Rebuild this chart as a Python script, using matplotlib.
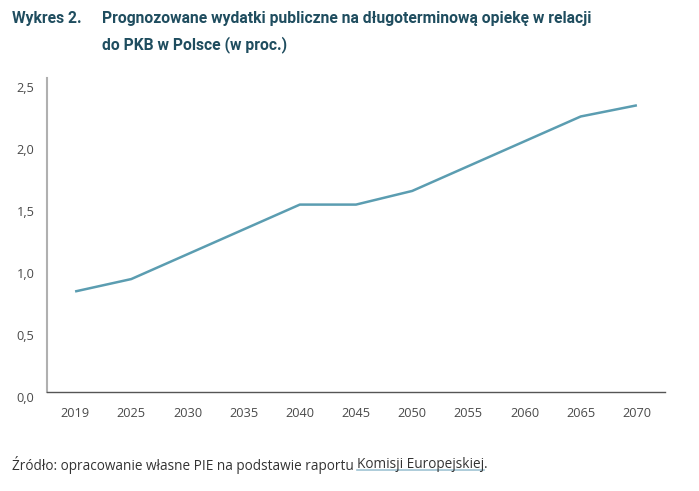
import matplotlib
matplotlib.use("Agg")
import matplotlib.pyplot as plt

years = ["2019", "2025", "2030", "2035", "2040", "2045", "2050", "2055", "2060", "2065", "2070"]
values = [0.81, 0.91, 1.11, 1.31, 1.51, 1.51, 1.62, 1.82, 2.02, 2.22, 2.31]
yticks = [0.0, 0.5, 1.0, 1.5, 2.0, 2.5]
ytick_labels = ["0,0", "0,5", "1,0", "1,5", "2,0", "2,5"]

title_font = "Roboto"
body_font = "Open Sans"

fig = plt.figure(figsize=(6.99, 4.91), dpi=100)
ax = fig.add_axes([47/699, 1-392/491, (665-47)/699, (392-78)/491])

x = list(range(len(years)))
ax.plot(x, values, color="#5b9db1", lw=1.8, solid_capstyle="butt")
ax.set_xlim(-0.5, 10.5)
ax.set_ylim(0, 2.53)
ax.set_xticks(x)
ax.set_xticklabels(years, fontfamily=body_font, fontsize=9.2, color="#4a4a4a")
ax.set_yticks(yticks)
ax.set_yticklabels(ytick_labels, fontfamily=body_font, fontsize=9.2, color="#4a4a4a")
for lab in ax.get_yticklabels():
    lab.set_va("top")
ax.tick_params(axis="both", length=0)
ax.tick_params(axis="x", pad=11)
ax.tick_params(axis="y", pad=9)
for s in ["top", "right"]:
    ax.spines[s].set_visible(False)
ax.spines["left"].set_color("#b0b0b0")
ax.spines["left"].set_linewidth(1.5)
ax.spines["bottom"].set_color("#555555")
ax.spines["bottom"].set_linewidth(1.0)

tcol = "#1f4d5f"
fs_t = 11.25
fig.text(12/699, 1-19/491, "Wykres 2.", fontfamily=title_font, fontweight="bold",
         fontsize=fs_t, color=tcol, va="center", ha="left")
fig.text(102/699, 1-19/491, "Prognozowane wydatki publiczne na długoterminową opiekę w relacji",
         fontfamily=title_font, fontweight="bold", fontsize=fs_t, color=tcol, va="center", ha="left")
fig.text(102/699, 1-45/491, "do PKB w Polsce (w proc.)",
         fontfamily=title_font, fontweight="bold", fontsize=fs_t, color=tcol, va="center", ha="left")

fs_s = 9.8
src_y = 1-465/491
t1 = fig.text(12/699, src_y, "Źródło: opracowanie własne PIE na podstawie raportu ",
              fontfamily=body_font, fontsize=fs_s, color="#333333", va="center", ha="left")
fig.canvas.draw()
r = fig.canvas.get_renderer()
bb = t1.get_window_extent(r).transformed(fig.transFigure.inverted())
t2 = fig.text(bb.x1, src_y, "Komisji Europejskiej", fontfamily=body_font, fontsize=fs_s,
              color="#333333", va="center", ha="left")
fig.canvas.draw()
bb2 = t2.get_window_extent(r).transformed(fig.transFigure.inverted())
t3 = fig.text(bb2.x1, src_y, ".", fontfamily=body_font, fontsize=fs_s,
              color="#333333", va="center", ha="left")
uy = bb2.y0 + 3/491
fig.add_artist(plt.Line2D([bb2.x0, bb2.x1], [uy, uy], transform=fig.transFigure,
                          color="#9fc3d3", lw=1.2))

fig.savefig("out.png", dpi=100)
